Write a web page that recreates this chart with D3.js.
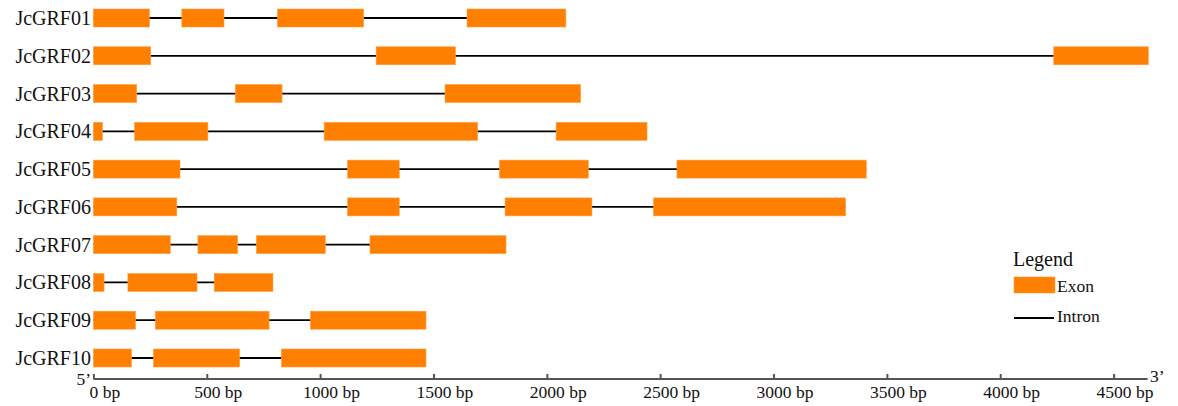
<!DOCTYPE html>
<meta charset="utf-8">
<head>
<style>
body { margin: 0; background: #fff; }
svg text { font-family: "Liberation Serif", "Times New Roman", serif; fill: #111; }
.intron { stroke: #000; stroke-width: 1.8; }
.exon { fill: #ff8000; stroke: #ffa040; stroke-width: 0.6; }
.axis path, .axis line { stroke: #555; stroke-width: 2; }
.axis text { font-size: 17.5px; }
</style>
</head>
<body>
<svg width="1178" height="406"></svg>
<script src="https://d3js.org/d3.v7.min.js"></script>
<script>

var genes = ["JcGRF01", "JcGRF02", "JcGRF03", "JcGRF04", "JcGRF05",
             "JcGRF06", "JcGRF07", "JcGRF08", "JcGRF09", "JcGRF10"];

// exon start / end positions (bp), one list per gene
var exonStarts = [
  [0, 390, 812, 1648],
  [0, 1247, 4236],
  [0, 626, 1551],
  [0, 182, 1018, 2041],
  [0, 1121, 1791, 2574],
  [0, 1121, 1816, 2471],
  [0, 461, 719, 1220],
  [0, 152, 533],
  [0, 273, 957],
  [0, 265, 829]
];
var exonEnds = [
  [247, 576, 1192, 2084],
  [253, 1597, 4653],
  [191, 832, 2149],
  [40, 505, 1695, 2442],
  [382, 1349, 2183, 3409],
  [368, 1349, 2199, 3318],
  [339, 636, 1023, 1820],
  [47, 457, 792],
  [186, 775, 1467],
  [168, 645, 1467]
];

var tickValues = [0, 500, 1000, 1500, 2000, 2500, 3000, 3500, 4000, 4500];

var svg = d3.select("svg");

var x = d3.scaleLinear().domain([0, 4650]).range([93.4, 1147.6]);
var y = d3.scalePoint().domain(genes).range([18, 358]);
var exonH = 18;

var rows = svg.selectAll(".gene")
  .data(genes)
  .enter().append("g")
    .attr("class", "gene")
    .attr("transform", function(d) { return "translate(0," + y(d) + ")"; });

rows.append("line")
    .attr("class", "intron")
    .attr("x1", function(d, i) { return x(exonStarts[i][0]); })
    .attr("x2", function(d, i) { return x(exonEnds[i][exonEnds[i].length - 1]); })
    .attr("y1", 0).attr("y2", 0);

rows.selectAll(".exon")
  .data(function(d, i) { return exonStarts[i].map(function(s, j) { return [s, exonEnds[i][j]]; }); })
  .enter().append("rect")
    .attr("class", "exon")
    .attr("x", function(d) { return x(d[0]); })
    .attr("width", function(d) { return x(d[1]) - x(d[0]); })
    .attr("y", -exonH / 2)
    .attr("height", exonH);

rows.append("text")
    .attr("x", 91)
    .attr("dy", "0.35em")
    .attr("text-anchor", "end")
    .style("font-size", "20px")
    .text(function(d) { return d; });

// scale bar
var axisY = 379;
var axis = svg.append("g")
    .attr("class", "axis")
    .attr("transform", "translate(0," + axisY + ")")
    .call(d3.axisBottom(x)
      .tickValues(tickValues)
      .tickSizeInner(-5)
      .tickSizeOuter(0)
      .tickPadding(7)
      .tickFormat(function(d) { return d + " bp"; }));

axis.select(".domain").attr("d", "M" + x(0) + ",0H" + x(4650));
axis.selectAll(".tick text")
    .attr("text-anchor", "start")
    .attr("dx", function(d) { return (-String(d).length * 0.25) + "em"; });

svg.append("text")
    .attr("x", 91).attr("y", axisY + 6)
    .attr("text-anchor", "end")
    .style("font-size", "17.5px")
    .text("5\u2019");

svg.append("text")
    .attr("x", 1150).attr("y", axisY + 3)
    .style("font-size", "17.5px")
    .text("3\u2019");

// legend
var legend = svg.append("g").attr("transform", "translate(1013,0)");
legend.append("text")
    .attr("x", 0).attr("y", 266)
    .style("font-size", "20px")
    .text("Legend");
legend.append("rect")
    .attr("class", "exon")
    .attr("x", 1).attr("y", 277)
    .attr("width", 41).attr("height", 16);
legend.append("text")
    .attr("x", 44).attr("y", 292)
    .style("font-size", "17.5px")
    .text("Exon");
legend.append("line")
    .attr("class", "intron")
    .attr("x1", 1).attr("x2", 41)
    .attr("y1", 318).attr("y2", 318);
legend.append("text")
    .attr("x", 44).attr("y", 322)
    .style("font-size", "17.5px")
    .text("Intron");

</script>
</body>
</html>
